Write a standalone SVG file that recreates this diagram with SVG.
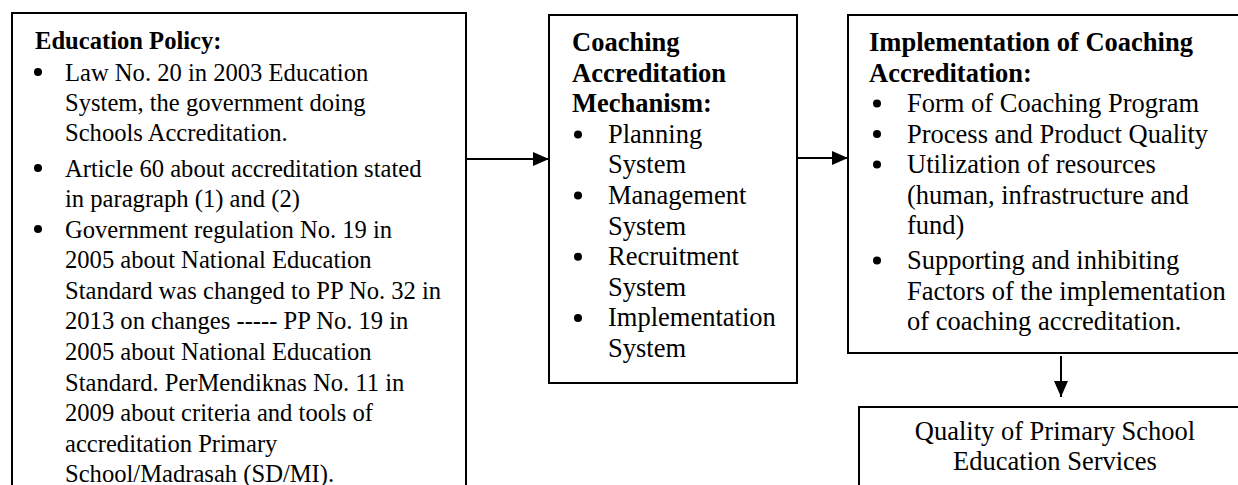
<svg xmlns="http://www.w3.org/2000/svg" width="1238" height="485" viewBox="0 0 1238 485">
<style>
.box{fill:#fff;stroke:#000;stroke-width:2}
.t1{font-family:"Liberation Serif","Times New Roman",serif;font-size:24.6px;fill:#000}
.t2{font-family:"Liberation Serif","Times New Roman",serif;font-size:26.5px;fill:#000}
.b{font-weight:bold}
.c{text-anchor:middle}
.dot{fill:#000}
.ln{stroke:#000;stroke-width:2;fill:none}
</style>
<defs>
<marker id="ah" markerWidth="16" markerHeight="14" refX="16" refY="7" orient="auto" markerUnits="userSpaceOnUse">
<path d="M0,0 L16,7 L0,14 Z" fill="#000"/>
</marker>
</defs>
<rect width="1238" height="485" fill="#fff"/>
<g id="connectors">
<line class="ln" x1="466" y1="159" x2="549" y2="159" marker-end="url(#ah)"/>
<line class="ln" x1="797" y1="158" x2="848" y2="158" marker-end="url(#ah)"/>
<line class="ln" x1="1061" y1="356" x2="1061" y2="397" marker-end="url(#ah)"/>
</g>
<g id="education-policy">
<rect class="box" x="12" y="13" width="454" height="490"/>
<circle class="dot" cx="38" cy="72" r="4"/>
<circle class="dot" cx="38" cy="168" r="4"/>
<circle class="dot" cx="38" cy="229" r="4"/>
<g class="t1">
<text x="35" y="49" class="b">Education Policy:</text>
<text x="65" y="80.5">Law No. 20 in 2003 Education</text>
<text x="65" y="111">System, the government doing</text>
<text x="65" y="141">Schools Accreditation.</text>
<text x="65" y="176.5">Article 60 about accreditation stated</text>
<text x="65" y="207">in paragraph (1) and (2)</text>
<text x="65" y="237.5">Government regulation No. 19 in</text>
<text x="65" y="268">2005 about National Education</text>
<text x="65" y="299">Standard was changed to PP No. 32 in</text>
<text x="65" y="329">2013 on changes ----- PP No. 19 in</text>
<text x="65" y="360">2005 about National Education</text>
<text x="65" y="391">Standard. PerMendiknas No. 11 in</text>
<text x="65" y="421">2009 about criteria and tools of</text>
<text x="65" y="452">accreditation Primary</text>
<text x="65" y="482">School/Madrasah (SD/MI).</text>
</g>
</g>
<g id="mechanism">
<rect class="box" x="549" y="15" width="248" height="368"/>
<circle class="dot" cx="578" cy="134.5" r="4"/>
<circle class="dot" cx="578" cy="195.5" r="4"/>
<circle class="dot" cx="578" cy="256.7" r="4"/>
<circle class="dot" cx="578" cy="318" r="4"/>
<g class="t2">
<text x="572" y="51" class="b">Coaching</text>
<text x="572" y="81.6" class="b">Accreditation</text>
<text x="572" y="112.2" class="b">Mechanism:</text>
<text x="608" y="142.8">Planning</text>
<text x="608" y="173.4">System</text>
<text x="608" y="204">Management</text>
<text x="608" y="234.6">System</text>
<text x="608" y="265.2">Recruitment</text>
<text x="608" y="295.8">System</text>
<text x="608" y="326.4">Implementation</text>
<text x="608" y="357">System</text>
</g>
</g>
<g id="implementation">
<rect class="box" x="848" y="15" width="420" height="338"/>
<circle class="dot" cx="877" cy="103.5" r="4"/>
<circle class="dot" cx="877" cy="134" r="4"/>
<circle class="dot" cx="877" cy="164.5" r="4"/>
<circle class="dot" cx="877" cy="260.5" r="4"/>
<g class="t2">
<text x="869" y="51" class="b">Implementation of Coaching</text>
<text x="869" y="81.5" class="b">Accreditation:</text>
<text x="907" y="112">Form of Coaching Program</text>
<text x="907" y="142.5">Process and Product Quality</text>
<text x="907" y="173">Utilization of resources</text>
<text x="907" y="203.5">(human, infrastructure and</text>
<text x="907" y="234">fund)</text>
<text x="907" y="269">Supporting and inhibiting</text>
<text x="907" y="299.5">Factors of the implementation</text>
<text x="907" y="330">of coaching accreditation.</text>
</g>
</g>
<g id="quality">
<rect class="box" x="859" y="407" width="392" height="120"/>
<g class="t2 c">
<text x="1055" y="440">Quality of Primary School</text>
<text x="1055" y="470">Education Services</text>
</g>
</g>
</svg>
